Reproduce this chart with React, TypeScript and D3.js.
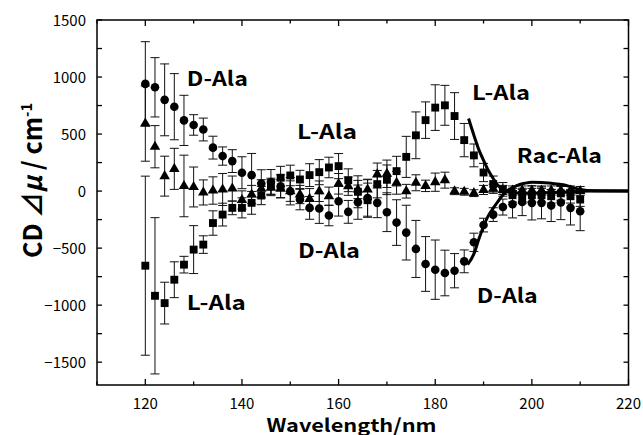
import React from 'react';
import * as d3 from 'd3';

const wavelength = [120,122,124,126,128,130,132,134,136,138,140,142,144,146,148,150,152,154,156,158,160,162,164,166,168,170,172,174,176,178,180,182,184,186,188,190,192,194,196,198,200,202,204,206,208,210];

const dAla = [940,910,800,740,620,580,540,381,307,263,161,140,67,79,43,-1,-74,-147,-153,-214,-89,-182,-97,-60,-103,-185,-276,-364,-507,-639,-689,-718,-698,-616,-449,-298,-206,-140,-115,-95,-103,-103,-127,-100,-147,-177];
const dAlaErr = [370,260,315,290,220,90,100,100,80,100,140,190,120,110,100,120,90,100,130,90,130,100,150,160,130,170,200,240,250,240,260,200,150,100,80,60,60,70,120,120,150,140,140,150,150,170];

const lAla = [-654,-918,-982,-777,-645,-513,-469,-280,-206,-147,-147,-103,-39,43,117,137,102,140,166,207,219,95,-6,-80,61,99,175,300,489,622,732,752,658,447,313,163,62,15,-36,-45,-36,-36,-45,-20,-45,-74];
const lAlaErr = [785,685,183,157,73,210,77,107,100,60,88,100,80,70,100,90,80,100,110,90,110,100,140,150,120,130,130,180,205,160,200,175,205,146,100,80,70,60,60,60,60,60,60,60,60,60];

const racAla = [592,389,131,195,45,36,-12,5,14,22,-78,-30,20,30,20,0,-30,-68,-1,-45,64,43,14,14,146,152,73,-1,73,46,78,96,-1,-6,-18,10,20,10,5,5,5,5,5,5,5,0];
const racAlaErr = [330,185,175,180,270,175,110,120,140,110,80,80,80,70,80,90,80,90,90,80,90,80,80,90,100,120,100,60,70,50,80,70,30,30,30,40,40,40,40,40,40,40,40,40,40,40];

const lFitX = [186.9,188,189,190,191,192,193,194,195,196,198,200,204,208,212,220];
const lFitY = [636,490,366,270,180,110,50,14,-5,-12,-18,-18,-12,-6,0,0];
const dFitX = [186.7,188,189,190,191,192,193,194,195,196,197,198.5,200,202,204,206.5,208,210,213,220];
const dFitY = [-645,-550,-425,-308,-215,-150,-90,-35,5,30,50,68,78,76,68,55,38,14,2,0];

const xTicks = [120,140,160,180,200,220];
const xMinor = [110,130,150,170,190,210];
const yTicks = [-1500,-1000,-500,0,500,1000,1500];
const yMinor = [-1250,-750,-250,250,750,1250];

const annoText = ['D-Ala','L-Ala','L-Ala','Rac-Ala','D-Ala','L-Ala','D-Ala'];
const annoX = [128.6,151.4,187.6,196.9,151.6,128.6,188.6];
const annoY = [921,457,798,246,-587,-1042,-981];
const annoW = [61,60,58,85,62,59,61];

const W = 643, H = 435;
const L = 97, R = 628.5, T = 20, B = 385;
const FONT = '"Noto Sans CJK JP", "Noto Sans", sans-serif';

export default function App() {
  const x = d3.scaleLinear().domain([110, 220]).range([L, R]);
  const y = d3.scaleLinear().domain([-1700, 1500]).range([B, T]);
  const sq = d3.symbol(d3.symbolSquare, 62)();
  const tri = d3.symbol(d3.symbolTriangle, 48)();

  const line = d3.line<[number, number]>().x(d => x(d[0])).y(d => y(d[1])).curve(d3.curveMonotoneX);
  const lPath = line(lFitX.map((v, i) => [v, lFitY[i]] as [number, number])) || '';
  const dPath = line(dFitX.map((v, i) => [v, dFitY[i]] as [number, number])) || '';

  const errBars = (vals: number[], errs: number[], key: string) =>
    wavelength.map((w, i) => {
      const cx = x(w);
      const y1 = y(vals[i] + errs[i]);
      const y2 = y(vals[i] - errs[i]);
      return (
        <g key={key + i} stroke="#111" strokeWidth={1} fill="none">
          <line x1={cx} x2={cx} y1={y1} y2={y2} />
          <line x1={cx - 4.5} x2={cx + 4.5} y1={y1} y2={y1} />
          <line x1={cx - 4.5} x2={cx + 4.5} y1={y2} y2={y2} />
        </g>
      );
    });

  return (
    <svg width={W} height={H} style={{ position: 'absolute', left: 0, top: 0, background: '#fff' }}>
      <rect x={0} y={0} width={W} height={H} fill="#fff" />
      {errBars(dAla, dAlaErr, 'de')}
      {errBars(lAla, lAlaErr, 'le')}
      {errBars(racAla, racAlaErr, 're')}
      {wavelength.map((w, i) => (
        <circle key={'c' + i} cx={x(w)} cy={y(dAla[i])} r={4.3} fill="#000" />
      ))}
      {wavelength.map((w, i) => (
        <path key={'s' + i} d={sq} transform={`translate(${x(w)},${y(lAla[i])})`} fill="#000" />
      ))}
      {wavelength.map((w, i) => (
        <path key={'t' + i} d={tri} transform={`translate(${x(w)},${y(racAla[i])})`} fill="#000" />
      ))}
      <path d={lPath} fill="none" stroke="#000" strokeWidth={3} />
      <path d={dPath} fill="none" stroke="#000" strokeWidth={3} />
      <rect x={L} y={T} width={R - L} height={B - T} fill="none" stroke="#000" strokeWidth={1.5} />
      {xTicks.map(t => (
        <g key={'xt' + t}>
          <line x1={x(t)} x2={x(t)} y1={B} y2={B - 6} stroke="#000" strokeWidth={1.3} />
          <line x1={x(t)} x2={x(t)} y1={T} y2={T + 6} stroke="#000" strokeWidth={1.3} />
          <text x={x(t)} y={409} textAnchor="middle" fontFamily={FONT} fontSize={15}>{t}</text>
        </g>
      ))}
      {xMinor.map(t => (
        <g key={'xm' + t}>
          <line x1={x(t)} x2={x(t)} y1={B} y2={B - 3.5} stroke="#000" strokeWidth={1.3} />
          <line x1={x(t)} x2={x(t)} y1={T} y2={T + 3.5} stroke="#000" strokeWidth={1.3} />
        </g>
      ))}
      {yTicks.map(t => (
        <g key={'yt' + t}>
          <line x1={L} x2={L + 5} y1={y(t)} y2={y(t)} stroke="#000" strokeWidth={1.3} />
          <line x1={R} x2={R - 5} y1={y(t)} y2={y(t)} stroke="#000" strokeWidth={1.3} />
          <text x={86} y={y(t) + 5.5} textAnchor="end" fontFamily={FONT} fontSize={15}>{t < 0 ? '\u2212' + Math.abs(t) : String(t)}</text>
        </g>
      ))}
      {yMinor.map(t => (
        <g key={'ym' + t}>
          <line x1={L} x2={L + 5} y1={y(t)} y2={y(t)} stroke="#000" strokeWidth={1.3} />
          <line x1={R} x2={R - 5} y1={y(t)} y2={y(t)} stroke="#000" strokeWidth={1.3} />
        </g>
      ))}
      {annoText.map((s, i) => (
        <text key={'a' + i} x={x(annoX[i])} y={y(annoY[i])} fontFamily={FONT} fontWeight="bold" fontSize={20}
          textLength={annoW[i]} lengthAdjust="spacingAndGlyphs">{s}</text>
      ))}
      <text x={351.5} y={432} textAnchor="middle" fontFamily={FONT} fontWeight="bold" fontSize={18}
        textLength={170} lengthAdjust="spacingAndGlyphs">Wavelength/nm</text>
      <text transform="translate(42,258) rotate(-90)" fontFamily={FONT} fontWeight="bold" fontSize={26}
        textLength={155} lengthAdjust="spacingAndGlyphs">
        CD {'\u22BF'}<tspan fontStyle="italic">μ</tspan> / cm<tspan dy={-10} fontSize={15}>-1</tspan>
      </text>
    </svg>
  );
}
